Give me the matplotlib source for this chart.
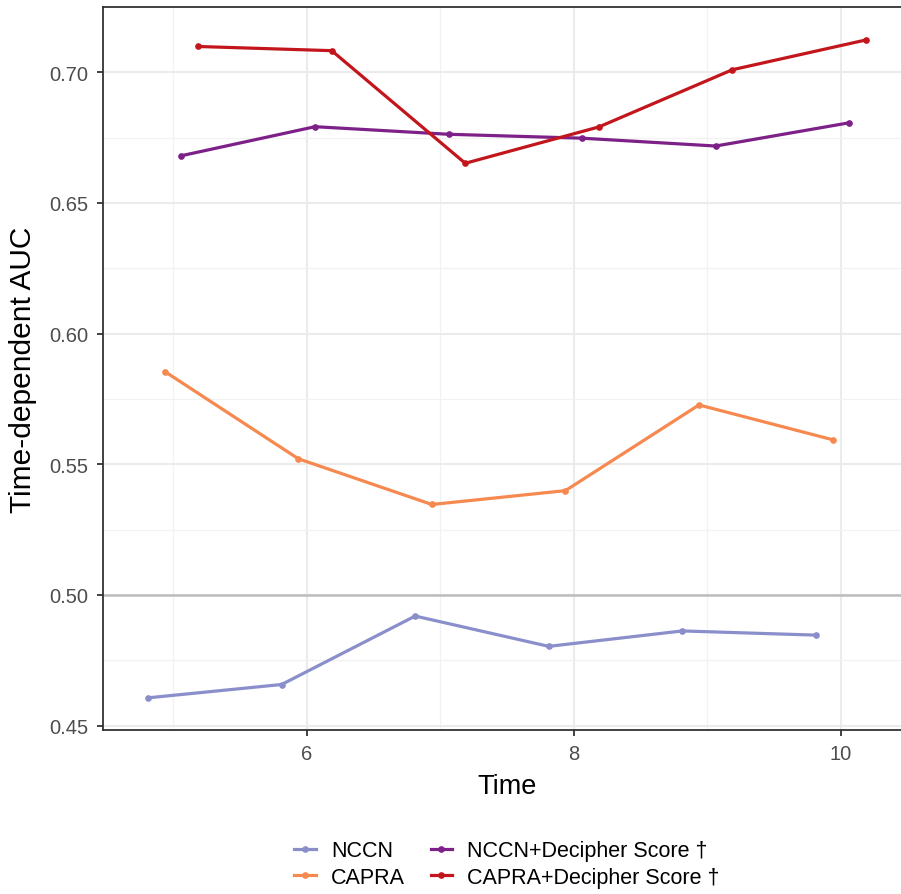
import matplotlib.pyplot as plt
import numpy as np
from matplotlib.ticker import MultipleLocator

plt.rcParams['font.family'] = ['Liberation Sans', 'DejaVu Sans']

times = np.array([5, 6, 7, 8, 9, 10])
models = ['NCCN', 'CAPRA', 'NCCN+Decipher Score \u2020', 'CAPRA+Decipher Score \u2020']
nccn = [0.4606, 0.4657, 0.4919, 0.4803, 0.4862, 0.4846]
capra = [0.5855, 0.5521, 0.5346, 0.5399, 0.5727, 0.5594]
nccn_dec = [0.6681, 0.6792, 0.6763, 0.6748, 0.6718, 0.6807]
capra_dec = [0.7099, 0.7083, 0.6652, 0.6791, 0.7010, 0.7124]
colors = ['#8a8fcb', '#f6894f', '#7d2088', '#c3161c']

fig = plt.figure(figsize=(9.01, 8.95), dpi=100)
# panel runs slightly past the right edge, as in the cropped original
ax = fig.add_axes([103 / 901, (895 - 730.7) / 895, (911 - 103) / 901, (730.7 - 8.3) / 895])

# position_dodge(width = 0.5) with 4 groups
offsets = [-0.1875, -0.0625, 0.0625, 0.1875]
for vals, off, col, lab in zip([nccn, capra, nccn_dec, capra_dec], offsets, colors, models):
    ax.plot(times + off, vals, color=col, lw=2.3, marker='o', ms=3.8, label=lab, zorder=3)

ax.axhline(0.5, color='#bdbdbd', lw=1.8, zorder=1)

ax.set_xlim(4.475, 10.525)
ax.set_ylim(0.4484, 0.7249)
ax.xaxis.set_major_locator(MultipleLocator(2))
ax.xaxis.set_minor_locator(MultipleLocator(1))
ax.yaxis.set_major_locator(MultipleLocator(0.05))
ax.yaxis.set_minor_locator(MultipleLocator(0.025))
ax.yaxis.set_major_formatter(plt.FormatStrFormatter('%.2f'))

ax.grid(which='major', color='#ebebeb', lw=1.5, zorder=0)
ax.grid(which='minor', color='#f2f2f2', lw=0.9, zorder=0)
ax.set_axisbelow(True)
ax.tick_params(which='major', length=4, width=1.3, color='#333333', labelcolor='#4d4d4d',
               labelsize=14.5, pad=6.5)
ax.tick_params(which='minor', length=0)
for s in ax.spines.values():
    s.set_color('#333333')
    s.set_linewidth(1.3)

ax.set_xlabel('Time', fontsize=19.5, labelpad=7)
ax.set_ylabel('Time-dependent AUC', fontsize=21.5, labelpad=9)

fig.legend(loc='center', bbox_to_anchor=(507 / 901, 30 / 895), ncol=2, frameon=False,
           fontsize=15.5, handlelength=1.0, handletextpad=0.7, columnspacing=1.2,
           labelspacing=0.25)

plt.savefig('out.png', dpi=100)
